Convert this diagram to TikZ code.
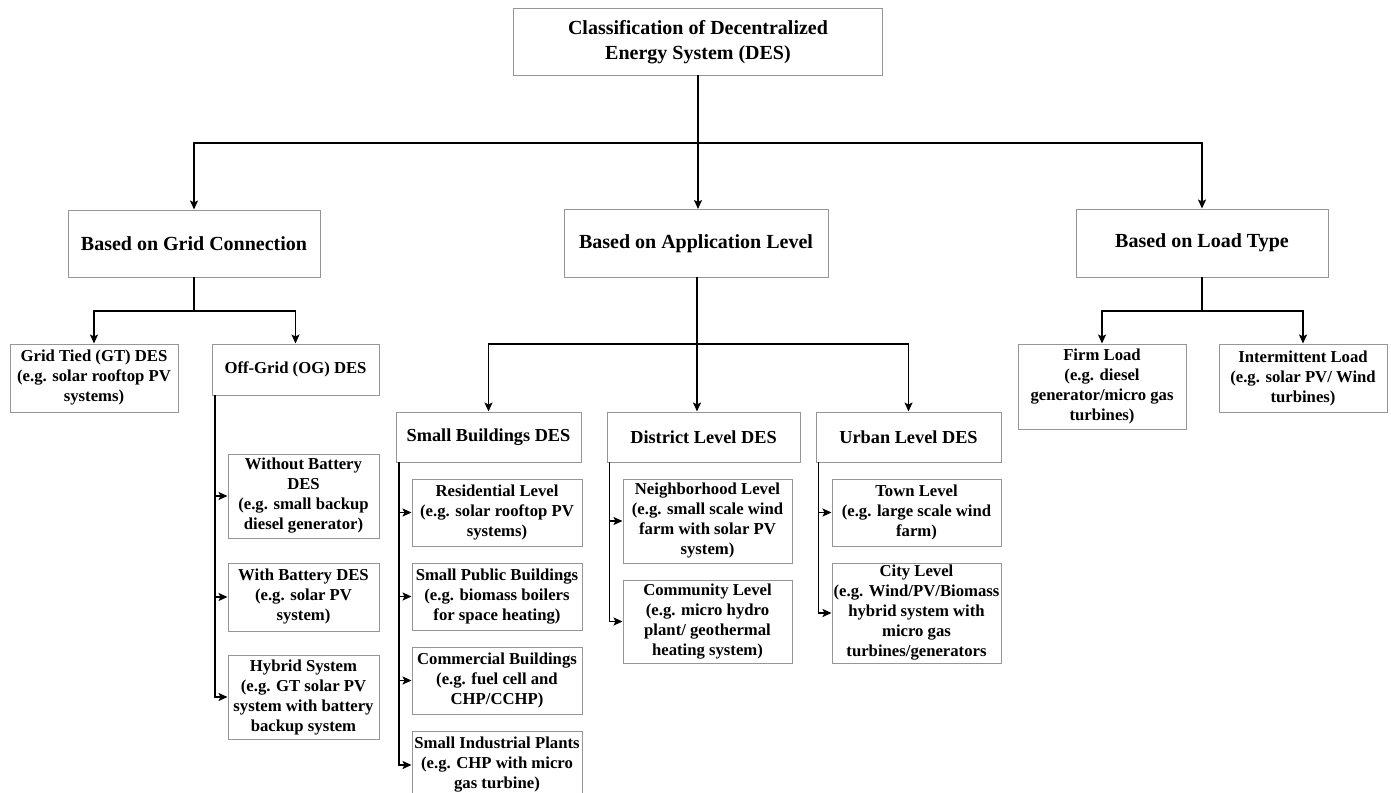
\documentclass[tikz,border=0pt]{standalone}
\usepackage{fontspec}
\setmainfont{Liberation Serif}
\usetikzlibrary{arrows.meta}
\definecolor{boxc}{RGB}{150,150,150}
\tikzset{
  box/.style={draw=boxc, line width=1pt, fill=white, align=center, inner sep=0pt,
    font=\bfseries\fontsize{16.7}{20}\selectfont},
  midbox/.style={box, font=\bfseries\fontsize{18.3}{22}\selectfont},
  bigbox/.style={box, font=\bfseries\fontsize{20}{25}\selectfont},
  conn/.style={line width=1.9pt, black, line cap=rect},
  arr/.style={line width=1.9pt, black, -{Stealth[length=9pt,width=8pt,inset=2pt]}}
}
\begin{document}
\begin{tikzpicture}[x=1pt,y=-1pt]
\useasboundingbox (0,0) rectangle (1391,792);
% level 0
\node[bigbox, minimum width=369, minimum height=67] (top) at (698,42) {Classification of Decentralized\\Energy System (DES)};
% level 1
\node[bigbox, minimum width=252, minimum height=67] (grid) at (194,243.5) {Based on Grid Connection};
\node[bigbox, minimum width=264, minimum height=68] (app) at (696,243.5) {Based on Application Level};
\node[bigbox, minimum width=252, minimum height=68] (load) at (1202,243) {Based on Load Type};
% grid children
\node[box, minimum width=168, minimum height=68] (gt) at (94,378) {Grid Tied (GT) DES\\(e.g. solar rooftop PV\\systems)};
\node[box, minimum width=167, minimum height=51] (og) at (295.5,369.5) {Off-Grid (OG) DES};
\node[box, minimum width=151, minimum height=84] (wob) at (303.5,496) {Without Battery\\DES\\(e.g. small backup\\diesel generator)};
\node[box, minimum width=151, minimum height=68] (wb) at (303.5,597) {With Battery DES\\(e.g. solar PV\\system)};
\node[box, minimum width=151, minimum height=84] (hyb) at (303.5,697) {Hybrid System\\(e.g. GT solar PV\\system with battery\\backup system};
% application children
\node[midbox, minimum width=185, minimum height=50] (sb) at (488.5,437) {Small Buildings DES};
\node[midbox, minimum width=193, minimum height=50] (dl) at (703.5,437) {District Level DES};
\node[midbox, minimum width=185, minimum height=50] (ub) at (908.5,437) {Urban Level DES};
\node[box, minimum width=170, minimum height=67] (res) at (497,512.5) {Residential Level\\(e.g. solar rooftop PV\\systems)};
\node[box, minimum width=170, minimum height=67] (spb) at (497,596.5) {Small Public Buildings\\(e.g. biomass boilers\\for space heating)};
\node[box, minimum width=170, minimum height=67] (com) at (497,680.5) {Commercial Buildings\\(e.g. fuel cell and\\CHP/CCHP)};
\node[box, minimum width=170, minimum height=68] (ind) at (497,765) {Small Industrial Plants\\(e.g. CHP with micro\\gas turbine)};
\node[box, minimum width=169, minimum height=84] (nb) at (707.5,521) {Neighborhood Level\\(e.g. small scale wind\\farm with solar PV\\system)};
\node[box, minimum width=169, minimum height=83] (cl) at (707.5,621.5) {Community Level\\(e.g. micro hydro\\plant/ geothermal\\heating system)};
\node[box, minimum width=169, minimum height=67] (tl) at (916.5,512.5) {Town Level\\(e.g. large scale wind\\farm)};
\node[box, minimum width=169, minimum height=100] (cy) at (916.5,613) {City Level\\(e.g. Wind/PV/Biomass\\hybrid system with\\micro gas\\turbines/generators};
% load children
\node[box, minimum width=168, minimum height=85] (fl) at (1102,386.5) {Firm Load\\(e.g. diesel\\generator/micro gas\\turbines)};
\node[box, minimum width=168, minimum height=68] (il) at (1303,378) {Intermittent Load\\(e.g. solar PV/ Wind\\turbines)};
% bus coordinates
\coordinate (b0) at (698,143);
\coordinate (b1) at (194,311);
\coordinate (b2) at (697,344);
\coordinate (b3) at (1202,311);
% level 0 -> 1
\draw[conn] (top.south) -- (b0);
\draw[conn] (b0 -| grid.north) -- (b0 -| load.north);
\draw[arr] (b0 -| grid.north) -- (grid.north);
\draw[arr] (b0) -- (app.north -| b0);
\draw[arr] (b0 -| load.north) -- (load.north);
% grid -> children
\draw[conn] (grid.south) -- (b1);
\draw[conn] (b1 -| gt.north) -- (b1 -| og.north);
\draw[arr] (b1 -| gt.north) -- (gt.north);
\draw[arr] (b1 -| og.north) -- (og.north);
% off-grid list
\coordinate (v1) at ([xshift=3.5pt]og.south west);
\draw[conn] (v1) -- (v1 |- hyb.west);
\draw[arr] (v1 |- wob.west) -- (wob.west);
\draw[arr] (v1 |- wb.west) -- (wb.west);
\draw[arr] (v1 |- hyb.west) -- (hyb.west);
% application -> children
\draw[conn] (app.south -| b2) -- (b2);
\draw[conn] (b2 -| sb.north) -- (b2 -| ub.north);
\draw[arr] (b2 -| sb.north) -- (sb.north);
\draw[arr] (b2) -- (dl.north -| b2);
\draw[arr] (b2 -| ub.north) -- (ub.north);
% small buildings list
\coordinate (v2) at ([xshift=3.5pt]sb.south west);
\draw[conn] (v2) -- (v2 |- ind.west);
\draw[arr] (v2 |- res.west) -- (res.west);
\draw[arr] (v2 |- spb.west) -- (spb.west);
\draw[arr] (v2 |- com.west) -- (com.west);
\draw[arr] (v2 |- ind.west) -- (ind.west);
% district list
\coordinate (v3) at ([xshift=3pt]dl.south west);
\draw[conn] (v3) -- (v3 |- cl.west);
\draw[arr] (v3 |- nb.west) -- (nb.west);
\draw[arr] (v3 |- cl.west) -- (cl.west);
% urban list
\coordinate (v4) at ([xshift=3pt]ub.south west);
\draw[conn] (v4) -- (v4 |- cy.west);
\draw[arr] (v4 |- tl.west) -- (tl.west);
\draw[arr] (v4 |- cy.west) -- (cy.west);
% load -> children
\draw[conn] (load.south) -- (b3);
\draw[conn] (b3 -| fl.north) -- (b3 -| il.north);
\draw[arr] (b3 -| fl.north) -- (fl.north);
\draw[arr] (b3 -| il.north) -- (il.north);
\end{tikzpicture}
\end{document}
